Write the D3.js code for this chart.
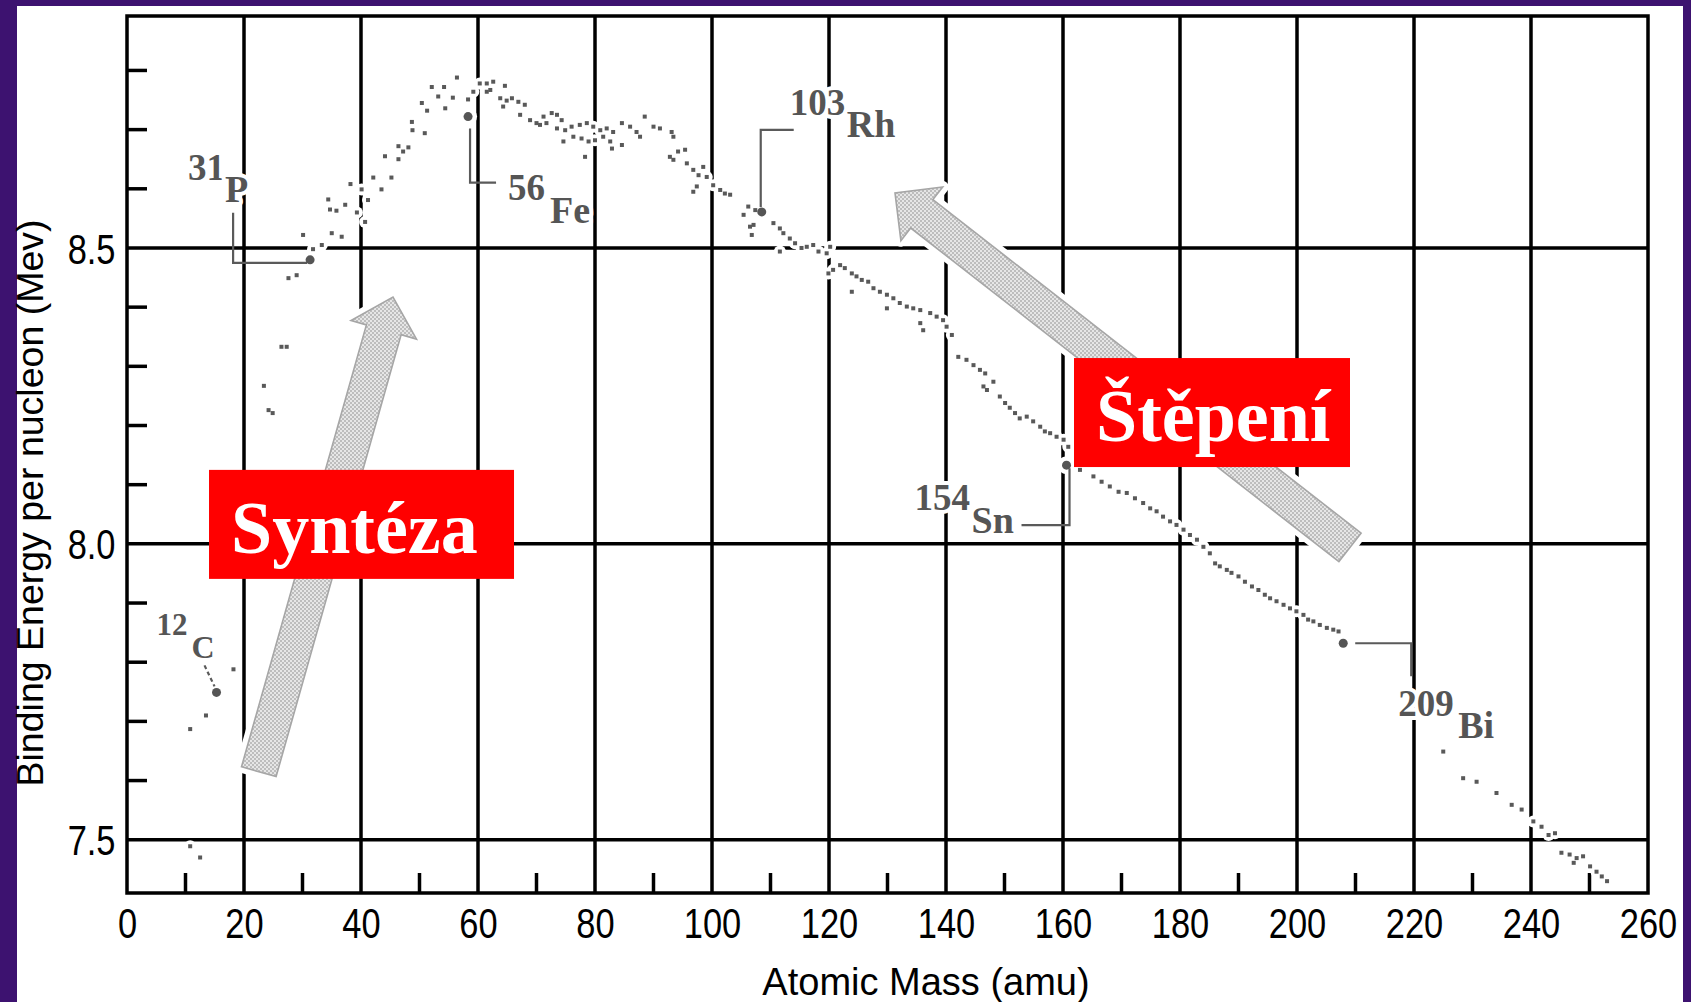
<!DOCTYPE html>
<html>
<head>
<meta charset="utf-8">
<script src="https://cdnjs.cloudflare.com/ajax/libs/d3/7.8.5/d3.min.js"></script>
<style>
  html, body { margin: 0; padding: 0; background: #3d1270; }
  svg { display: block; }
</style>
</head>
<body>
<svg width="1691" height="1002"></svg>
<script>
// mass number of each nuclide dot
var massNumbers = [
  10.8, 12.5, 10.8, 13.5, 18.2, 23.4, 24.2, 24.9, 26.4, 27.3, 27.6, 29.0, 30.1, 31.8, 33.3,
  34.4, 34.7, 35.0, 35.8, 36.7, 37.3, 38.2, 39.3, 40.1, 40.7, 41.2, 42.1, 43.5, 44.1, 45.2,
  46.4, 46.4, 47.2, 48.1, 48.7, 48.8, 50.4, 50.9, 51.3, 52.1, 53.2, 54.2, 54.4, 55.7, 56.4,
  58.3, 59.2, 60.3, 61.5, 61.5, 62.1, 62.6, 63.8, 64.3, 64.6, 64.9, 65.8, 66.9, 67.2, 68.0,
  68.9, 70.0, 70.6, 71.2, 71.7, 72.6, 73.5, 73.5, 74.3, 74.6, 74.9, 76.0, 76.3, 77.4, 77.7,
  78.3, 78.6, 78.9, 79.7, 80.0, 80.9, 81.4, 82.0, 82.6, 82.9, 83.1, 84.6, 84.6, 86.0, 87.1,
  87.7, 88.5, 90.0, 91.1, 92.8, 93.1, 93.4, 93.4, 94.2, 95.4, 95.7, 96.8, 96.8, 97.4, 97.7,
  98.5, 99.1, 100.2, 101.4, 102.2, 103.1, 105.4, 106.2, 106.5, 106.8, 107.1, 107.4, 110.5, 111.6, 111.6,
  112.2, 113.3, 114.2, 115.3, 116.2, 117.3, 118.2, 119.6, 119.9, 120.2, 120.7, 121.9, 122.7, 123.9, 123.9,
  124.7, 125.6, 126.7, 127.6, 128.7, 129.9, 129.9, 131.0, 132.1, 133.3, 134.4, 135.6, 135.6, 136.1, 137.3,
  138.4, 139.5, 140.1, 141.0, 142.1, 143.5, 144.7, 145.8, 146.4, 146.7, 147.0, 148.1, 149.2, 150.1, 150.9,
  151.8, 152.6, 153.8, 154.9, 156.1, 156.9, 157.8, 158.9, 160.1, 160.9, 162.9, 165.2, 166.6, 168.0, 169.5,
  170.9, 172.3, 173.7, 174.9, 176.0, 177.1, 178.3, 179.4, 180.6, 181.7, 182.9, 184.0, 185.1, 186.0, 186.8,
  188.0, 188.8, 190.0, 191.1, 192.3, 193.4, 194.5, 195.4, 196.5, 197.7, 198.8, 199.9, 201.1, 201.9, 202.8,
  203.9, 205.1, 206.2, 207.1, 225.0, 228.4, 230.7, 234.1, 236.7, 238.4, 240.4, 241.8, 243.0, 244.1, 245.2,
  246.6, 247.3, 247.8, 248.9, 250.1, 251.2, 252.1, 253.0
];
// binding energy per nucleon (MeV) of each dot
var bindingEnergies = [
  7.489, 7.470, 7.687, 7.710, 7.788, 8.267, 8.226, 8.221, 8.333, 8.333, 8.449, 8.454, 8.522, 8.498, 8.505,
  8.582, 8.565, 8.525, 8.563, 8.519, 8.573, 8.608, 8.560, 8.599, 8.544, 8.581, 8.619, 8.599, 8.655, 8.619,
  8.672, 8.650, 8.663, 8.670, 8.713, 8.699, 8.745, 8.694, 8.732, 8.772, 8.756, 8.772, 8.736, 8.754, 8.788,
  8.751, 8.764, 8.778, 8.778, 8.764, 8.767, 8.781, 8.753, 8.739, 8.774, 8.749, 8.753, 8.747, 8.725, 8.742,
  8.716, 8.711, 8.708, 8.722, 8.711, 8.728, 8.725, 8.702, 8.716, 8.680, 8.699, 8.705, 8.688, 8.708, 8.685,
  8.654, 8.711, 8.680, 8.705, 8.682, 8.699, 8.688, 8.702, 8.680, 8.668, 8.696, 8.711, 8.674, 8.705, 8.696,
  8.688, 8.722, 8.705, 8.702, 8.654, 8.696, 8.688, 8.649, 8.663, 8.666, 8.643, 8.632, 8.595, 8.604, 8.623,
  8.637, 8.620, 8.606, 8.598, 8.592, 8.590, 8.556, 8.570, 8.536, 8.522, 8.539, 8.564, 8.542, 8.533, 8.494,
  8.525, 8.516, 8.508, 8.500, 8.502, 8.505, 8.494, 8.491, 8.457, 8.502, 8.463, 8.471, 8.466, 8.457, 8.426,
  8.452, 8.446, 8.443, 8.432, 8.426, 8.421, 8.398, 8.415, 8.407, 8.401, 8.398, 8.395, 8.373, 8.361, 8.390,
  8.384, 8.378, 8.367, 8.353, 8.316, 8.311, 8.302, 8.294, 8.266, 8.288, 8.260, 8.274, 8.249, 8.238, 8.230,
  8.221, 8.212, 8.215, 8.207, 8.198, 8.190, 8.187, 8.181, 8.176, 8.164, 8.125, 8.114, 8.105, 8.097, 8.088,
  8.086, 8.077, 8.069, 8.060, 8.055, 8.046, 8.038, 8.032, 8.024, 8.015, 8.007, 7.995, 7.984, 7.967, 7.962,
  7.956, 7.951, 7.945, 7.936, 7.928, 7.922, 7.914, 7.908, 7.903, 7.897, 7.891, 7.886, 7.880, 7.872, 7.869,
  7.863, 7.858, 7.855, 7.852, 7.649, 7.604, 7.598, 7.579, 7.559, 7.551, 7.531, 7.522, 7.508, 7.511, 7.478,
  7.475, 7.461, 7.469, 7.472, 7.455, 7.446, 7.438, 7.430
];

// labelled nuclides
var labelMassText = ["12", "31", "56", "103", "154", "209"];
var labelSymbols  = ["C", "P", "Fe", "Rh", "Sn", "Bi"];
var labelMass     = [15.3, 31.3, 58.3, 108.5, 160.6, 207.9];
var labelEnergy   = [7.749, 8.480, 8.722, 8.561, 8.133, 7.832];

var xTickLabels = [0, 20, 40, 60, 80, 100, 120, 140, 160, 180, 200, 220, 240, 260];
var xGridValues = [20, 40, 60, 80, 100, 120, 140, 160, 180, 200, 220, 240];
var xMinorTicks = [10, 30, 50, 70, 90, 110, 130, 150, 170, 190, 210, 230, 250];
var yTickLabels = [7.5, 8.0, 8.5];
var yMinorTicks = [7.6, 7.7, 7.8, 7.9, 8.1, 8.2, 8.3, 8.4, 8.6, 8.7, 8.8];

var svg = d3.select("svg");

var x = d3.scaleLinear().domain([0, 260]).range([127, 1648]);
var y = d3.scaleLinear().domain([7.41, 8.892]).range([893, 16]);

var x0 = x.range()[0], x1 = x.range()[1];
var yTop = y.range()[1], yBot = y.range()[0];

// ---- background
svg.append("rect").attr("width", 1691).attr("height", 1002).attr("fill", "#3d1270");
svg.append("rect").attr("x", 17).attr("y", 6).attr("width", 1666).attr("height", 996).attr("fill", "#ffffff");

var defs = svg.append("defs");
var pat = defs.append("pattern").attr("id", "dither")
  .attr("width", 4).attr("height", 4).attr("patternUnits", "userSpaceOnUse");
pat.append("rect").attr("width", 4).attr("height", 4).attr("fill", "#e6e6e6");
pat.append("rect").attr("width", 2).attr("height", 2).attr("fill", "#bdbdbd");
pat.append("rect").attr("x", 2).attr("y", 2).attr("width", 2).attr("height", 2).attr("fill", "#bdbdbd");

// ---- grid
var grid = svg.append("g").attr("stroke", "#000").attr("stroke-width", 3.5);

grid.selectAll(".vg").data(xGridValues).enter().append("line")
  .attr("x1", function(d) { return x(d); }).attr("x2", function(d) { return x(d); })
  .attr("y1", yTop).attr("y2", yBot);

grid.selectAll(".hg").data(yTickLabels).enter().append("line")
  .attr("x1", x0).attr("x2", x1)
  .attr("y1", function(d) { return y(d); }).attr("y2", function(d) { return y(d); });

grid.selectAll(".xm").data(xMinorTicks).enter().append("line")
  .attr("x1", function(d) { return x(d); }).attr("x2", function(d) { return x(d); })
  .attr("y1", yBot).attr("y2", yBot - 20);

grid.selectAll(".ym").data(yMinorTicks).enter().append("line")
  .attr("x1", x0).attr("x2", x0 + 20)
  .attr("y1", function(d) { return y(d); }).attr("y2", function(d) { return y(d); });

svg.append("rect")
  .attr("x", x0).attr("y", yTop).attr("width", x1 - x0).attr("height", yBot - yTop)
  .attr("fill", "none").attr("stroke", "#000").attr("stroke-width", 3.5);

// ---- axes labels
var gx = svg.append("g").attr("transform", "translate(0," + yBot + ")")
  .call(d3.axisBottom(x).tickValues(xTickLabels).tickSize(0).tickPadding(15));
gx.select(".domain").remove();
gx.selectAll("text")
  .attr("transform", "scale(0.82,1)")
  .style("font-family", "'Liberation Sans', Arial, sans-serif")
  .style("font-size", "42px").attr("fill", "#000");

var gy = svg.append("g").attr("transform", "translate(" + x0 + ",0)")
  .call(d3.axisLeft(y).tickValues(yTickLabels).tickFormat(d3.format(".1f")).tickSize(0).tickPadding(14));
gy.select(".domain").remove();
gy.selectAll("text")
  .attr("transform", "scale(0.82,1)")
  .attr("dy", "0.36em")
  .style("font-family", "'Liberation Sans', Arial, sans-serif")
  .style("font-size", "42px").attr("fill", "#000");

svg.append("text")
  .attr("x", 926).attr("y", 995)
  .attr("text-anchor", "middle")
  .style("font-family", "'Liberation Sans', Arial, sans-serif")
  .style("font-size", "38px")
  .text("Atomic Mass (amu)");

svg.append("text")
  .attr("transform", "translate(43,503) rotate(-90)")
  .attr("text-anchor", "middle")
  .style("font-family", "'Liberation Sans', Arial, sans-serif")
  .style("font-size", "37.5px")
  .text("Binding Energy per nucleon (Mev)");

// ---- data points
var points = massNumbers.map(function(a, i) { return {a: a, b: bindingEnergies[i]}; });
var named = labelMass.map(function(a, i) {
  return {a: a, b: labelEnergy[i], num: labelMassText[i], sym: labelSymbols[i]};
});

// white halos that break the grid around marks
var halo = svg.append("g").attr("fill", "#fff");
halo.selectAll("circle.p").data(points).enter().append("circle")
  .attr("cx", function(d) { return x(d.a); }).attr("cy", function(d) { return y(d.b); }).attr("r", 6);
halo.selectAll("circle.n").data(named).enter().append("circle")
  .attr("cx", function(d) { return x(d.a); }).attr("cy", function(d) { return y(d.b); }).attr("r", 9);

// ---- arrows (tail -> tip, in chart units)
var arrows = [
  {tail: [22.53, 7.615], tip: [45.47, 8.417]},
  {tail: [209.06, 7.994], tip: [131.28, 8.593]}
];
function arrowPath(d) {
  var tx = x(d.tail[0]), ty = y(d.tail[1]), px = x(d.tip[0]), py = y(d.tip[1]);
  var len = Math.hypot(px - tx, py - ty), ux = (px - tx) / len, uy = (py - ty) / len;
  var nx = -uy, ny = ux, w = 18, h = 34, hw = 34;
  var bx = px - ux * h, by = py - uy * h;
  var pts = [
    [tx + nx * w, ty + ny * w], [bx + nx * w, by + ny * w], [bx + nx * hw, by + ny * hw],
    [px, py],
    [bx - nx * hw, by - ny * hw], [bx - nx * w, by - ny * w], [tx - nx * w, ty - ny * w]
  ];
  return "M" + pts.map(function(p) { return p[0].toFixed(1) + "," + p[1].toFixed(1); }).join("L") + "Z";
}
var ag = svg.append("g");
ag.selectAll("path.h").data(arrows).enter().append("path")
  .attr("d", arrowPath).attr("fill", "#fff").attr("stroke", "#fff").attr("stroke-width", 12)
  .attr("stroke-linejoin", "round");
ag.selectAll("path.a").data(arrows).enter().append("path")
  .attr("d", arrowPath).attr("fill", "url(#dither)").attr("stroke", "#a6a6a6").attr("stroke-width", 1.6);

// ---- leader lines and labels (offsets in px from the nuclide point)
var labelLayout = [
  {num: [-60, -57], sym: [-25, -34], size: 32, lead: [[-12, -27], [-2, -6]], dash: "4,3"},
  {num: [-122, -80], sym: [-85, -58], size: 38, lead: [[-77, -47], [-77, 3], [-3, 3]]},
  {num: [40, 83], sym: [82, 106], size: 38, lead: [[2, 12], [2, 66], [28, 66]]},
  {num: [28, -97], sym: [85, -75], size: 38, lead: [[-1, -5], [-1, -82], [32, -82]]},
  {num: [-152, 45], sym: [-95, 68], size: 38, lead: [[3, 3], [3, 60], [-45, 60]]},
  {num: [55, 73], sym: [115, 95], size: 38, lead: [[12, 0], [68, 0], [68, 33]]}
];

var leaders = svg.append("g").attr("fill", "none").attr("stroke", "#5a5a5a").attr("stroke-width", 2.2);
named.forEach(function(d, i) {
  var L = labelLayout[i], cx = x(d.a), cy = y(d.b);
  leaders.append("path")
    .attr("d", d3.line()(L.lead.map(function(p) { return [cx + p[0], cy + p[1]]; })))
    .attr("stroke-dasharray", L.dash || null);
});

var dots = svg.append("g").attr("fill", "#595959");
dots.selectAll("rect").data(points).enter().append("rect")
  .attr("x", function(d) { return x(d.a) - 2; })
  .attr("y", function(d) { return y(d.b) - 2; })
  .attr("width", 4).attr("height", 4);
dots.selectAll("circle").data(named).enter().append("circle")
  .attr("cx", function(d) { return x(d.a); }).attr("cy", function(d) { return y(d.b); })
  .attr("r", 4.5).attr("fill", "#555");

var lab = svg.append("g")
  .style("font-family", "'Liberation Serif', 'Times New Roman', serif")
  .style("font-weight", "bold")
  .attr("fill", "#555")
  .attr("stroke", "#fff").attr("stroke-width", 8).attr("stroke-linejoin", "round")
  .style("paint-order", "stroke");
named.forEach(function(d, i) {
  var L = labelLayout[i], cx = x(d.a), cy = y(d.b);
  lab.append("text").attr("x", cx + L.num[0]).attr("y", cy + L.num[1])
    .style("font-size", (L.size - 1) + "px").text(d.num);
  lab.append("text").attr("x", cx + L.sym[0]).attr("y", cy + L.sym[1])
    .style("font-size", L.size + "px").text(d.sym);
});

// ---- red process labels (top-left corner in chart units)
var processNames = ["Syntéza", "Štěpení"];
var boxes = [
  {a: 14.02, b: 8.125, w: 305, h: 109},
  {a: 161.88, b: 8.314, w: 276, h: 109}
];
boxes.forEach(function(bx, i) {
  var g = svg.append("g").attr("transform", "translate(" + x(bx.a) + "," + y(bx.b) + ")");
  g.append("rect").attr("width", bx.w).attr("height", bx.h).attr("fill", "#ff0000");
  g.append("text").attr("x", 22).attr("y", 83)
    .style("font-family", "'Liberation Serif', 'Times New Roman', serif")
    .style("font-weight", "bold").style("font-size", "74px")
    .attr("fill", "#fff").text(processNames[i]);
});
</script>
</body>
</html>
